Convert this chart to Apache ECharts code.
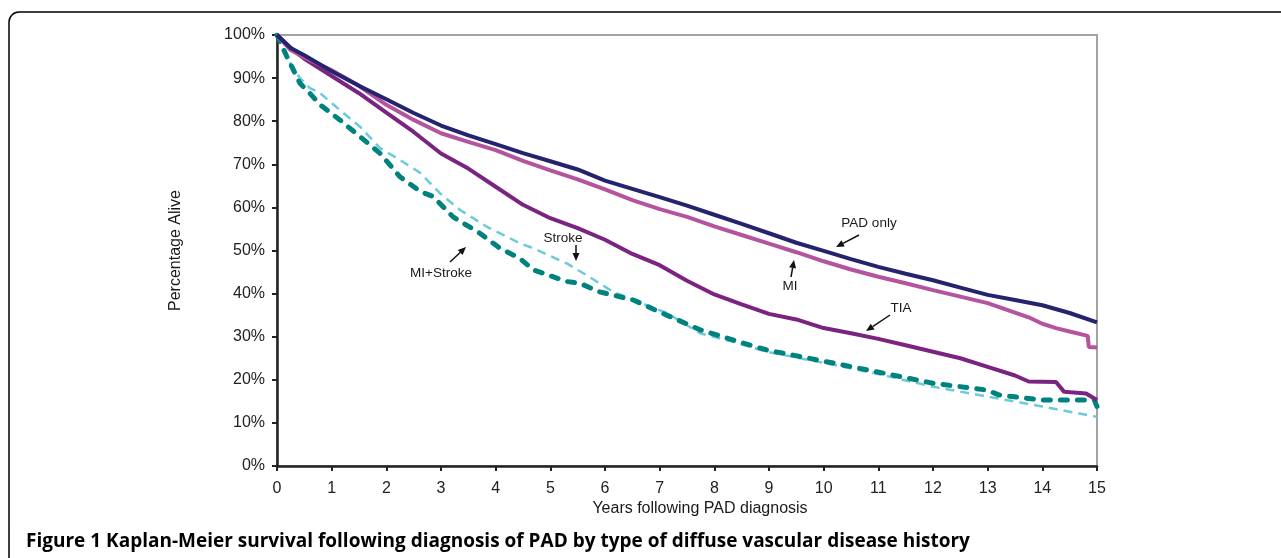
<!DOCTYPE html>
<html>
<head>
<meta charset="utf-8">
<script src="https://cdn.jsdelivr.net/npm/echarts@6/dist/echarts.min.js"></script>
<style>
html,body{margin:0;padding:0;background:#fff;}
#chart{width:1281px;height:558px;}
</style>
</head>
<body>
<div id="chart"></div>
<script>
// ---- data (years, percentage alive) ----
var yTickLabels = ['0%','10%','20%','30%','40%','50%','60%','70%','80%','90%','100%'];
var xTickLabels = ['0','1','2','3','4','5','6','7','8','9','10','11','12','13','14','15'];

var padOnlyT = [0,0.25,0.5,1,1.5,2,2.5,3,3.5,4,4.5,5,5.5,6,6.5,7,7.5,8,8.5,9,9.5,10,10.5,11,11.5,12,12.5,13,13.5,14,14.5,15];
var padOnlyV = [100,97,95.3,91.6,88.2,85.1,81.9,79,76.7,74.7,72.6,70.7,68.8,66.2,64.3,62.4,60.4,58.3,56.2,54,51.8,49.9,48,46.2,44.6,43.1,41.4,39.7,38.5,37.3,35.5,33.3];

var miT = [0,0.25,0.5,1,1.5,2,2.5,3,3.5,4,4.5,5,5.5,6,6.5,7,7.5,8,8.5,9,9.5,10,10.5,11,11.5,12,12.5,13,13.5,13.75,14,14.25,14.5,14.83,14.85,15];
var miV = [100,96.5,94.8,91.8,88.2,83.8,80.3,77.2,75.2,73.3,70.8,68.6,66.5,64.2,61.7,59.6,57.8,55.6,53.6,51.6,49.6,47.5,45.6,43.9,42.4,40.8,39.3,37.8,35.6,34.5,33,32,31.2,30.2,27.6,27.5];

var tiaT = [0,0.25,0.5,1,1.5,2,2.5,3,3.5,4,4.5,5,5.5,6,6.5,7,7.5,8,8.5,9,9.5,10,10.5,11,11.5,12,12.5,13,13.5,13.75,14.25,14.4,14.8,15];
var tiaV = [100,97,94.5,90.5,86.5,82,77.5,72.5,69,64.8,60.6,57.5,55.2,52.5,49.2,46.6,43,39.8,37.5,35.3,34,32,30.8,29.5,28,26.5,25,23,21,19.6,19.5,17.2,16.8,15.3];

var miStrokeT = [0,0.18,0.42,0.6,0.79,1.15,1.52,1.88,2.25,2.62,2.86,3.22,3.71,4.08,4.44,4.69,5.3,5.54,5.9,6.52,7.13,7.74,8.35,8.96,9.57,10.8,12,13,13.2,14,14.95,15];
var miStrokeV = [100,95,88.8,86.5,83.8,80.3,76.4,72.6,67.1,63.7,62.5,57.8,54,50.5,48.2,45.5,42.8,42.4,40.4,38.5,35,31.6,29.2,26.9,25.4,22.3,19.2,17.6,16.5,15.3,15.3,13.8];

var strokeT = [0,0.24,0.42,0.6,0.79,1.15,1.52,1.88,2.25,2.62,2.98,3.35,3.84,4.08,4.44,4.69,5.3,5.66,6.15,6.52,7.13,7.74,8.35,8.96,9.57,10.8,12,13,14,15];
var strokeV = [100,93.5,90,87.7,86.5,82.6,78.7,73.8,71,68,63.3,59.4,55.5,54,51.7,50.5,47,44.3,40.4,38.5,35.5,30.8,28.8,26.5,25,21.9,18.4,16.1,13.8,11.4];

function pairs(t, v){ return t.map(function(x,i){ return [x, v[i]]; }); }

// ---- annotation helpers (pixel layout) ----
function arrow(x1,y1,x2,y2){
  var ang = Math.atan2(y2-y1, x2-x1), L = 8, W = 3.5;
  var bx = x2 - L*Math.cos(ang), by = y2 - L*Math.sin(ang);
  var px = -Math.sin(ang)*W, py = Math.cos(ang)*W;
  return [
    {type:'line', shape:{x1:x1,y1:y1,x2:bx,y2:by}, style:{stroke:'#111',lineWidth:1.5}, z:100},
    {type:'polygon', shape:{points:[[x2,y2],[bx+px,by+py],[bx-px,by-py]]}, style:{fill:'#111'}, z:100}
  ];
}
function label(txt,x,y){
  return {type:'text', x:x, y:y, style:{text:txt, fill:'#1a1a1a', font:'13.5px "Liberation Sans", Arial, sans-serif', textAlign:'center', textVerticalAlign:'middle'}, z:100};
}

var graphics = [
  {type:'rect', shape:{x:9, y:12, width:1320, height:620, r:10}, style:{fill:'none', stroke:'#000', lineWidth:1.5}, z:0, silent:true},
  label('PAD only', 869, 223),
  label('MI', 790, 286),
  label('TIA', 901, 308),
  label('Stroke', 563, 238),
  label('MI+Stroke', 441, 273),
  {type:'text', x:700, y:509, style:{text:'Years following PAD diagnosis', fill:'#1a1a1a', font:'16px "Liberation Sans", Arial, sans-serif', textAlign:'center', textVerticalAlign:'middle'}},
  {type:'text', x:26, y:542, style:{text:'Figure 1 Kaplan-Meier survival following diagnosis of PAD by type of diffuse vascular disease history', fill:'#000', font:'bold 19px "Open Sans", sans-serif', textAlign:'left', textVerticalAlign:'middle'}}
].concat(arrow(859,235,836,247))
 .concat(arrow(791,277,794,260))
 .concat(arrow(890,315,866,331))
 .concat(arrow(576,245,576,261))
 .concat(arrow(450,262,466,247));

var chart = echarts.init(document.getElementById('chart'), null, {renderer:'canvas'});
chart.setOption({
  animation:false,
  backgroundColor:'#fff',
  grid:{left:277, right:184, top:35, bottom:92, show:true, borderColor:'#a3a3a3', borderWidth:2, backgroundColor:'transparent'},
  xAxis:{
    type:'value', min:0, max:15, interval:1,
    axisLine:{show:true, onZero:false, lineStyle:{color:'#222', width:2.5}},
    axisTick:{show:true, inside:false, length:5, lineStyle:{color:'#222', width:2}},
    axisLabel:{color:'#222', fontSize:16, fontFamily:'"Liberation Sans", Arial, sans-serif', margin:15,
      formatter:function(v){ return xTickLabels[Math.round(v)]; }},
    splitLine:{show:false}
  },
  yAxis:{
    type:'value', min:0, max:100, interval:10,
    name:'Percentage Alive', nameLocation:'middle', nameGap:93, nameRotate:90,
    nameTextStyle:{color:'#1a1a1a', fontSize:16, fontFamily:'"Liberation Sans", Arial, sans-serif'},
    axisLine:{show:true, lineStyle:{color:'#222', width:2.5}},
    axisTick:{show:true, inside:false, length:5, lineStyle:{color:'#222', width:2}},
    axisLabel:{color:'#222', fontSize:16, fontFamily:'"Liberation Sans", Arial, sans-serif', margin:12,
      formatter:function(v){ return yTickLabels[Math.round(v/10)]; }},
    splitLine:{show:false}
  },
  series:[
    {name:'Stroke', type:'line', data:pairs(strokeT, strokeV), showSymbol:false, symbol:'none', z:2,
      lineStyle:{color:'#6ccadb', width:2.5, type:[9,6], cap:'butt'}},
    {name:'MI+Stroke', type:'line', data:pairs(miStrokeT, miStrokeV), showSymbol:false, symbol:'none', z:3,
      lineStyle:{color:'#00827e', width:5, type:[7,10], cap:'round'}},
    {name:'TIA', type:'line', data:pairs(tiaT, tiaV), showSymbol:false, symbol:'none', z:4,
      lineStyle:{color:'#7b2381', width:4}},
    {name:'MI', type:'line', data:pairs(miT, miV), showSymbol:false, symbol:'none', z:5,
      lineStyle:{color:'#b6539f', width:4}},
    {name:'PAD only', type:'line', data:pairs(padOnlyT, padOnlyV), showSymbol:false, symbol:'none', z:6,
      lineStyle:{color:'#24246e', width:4}}
  ],
  graphic:graphics
});
</script>
</body>
</html>
